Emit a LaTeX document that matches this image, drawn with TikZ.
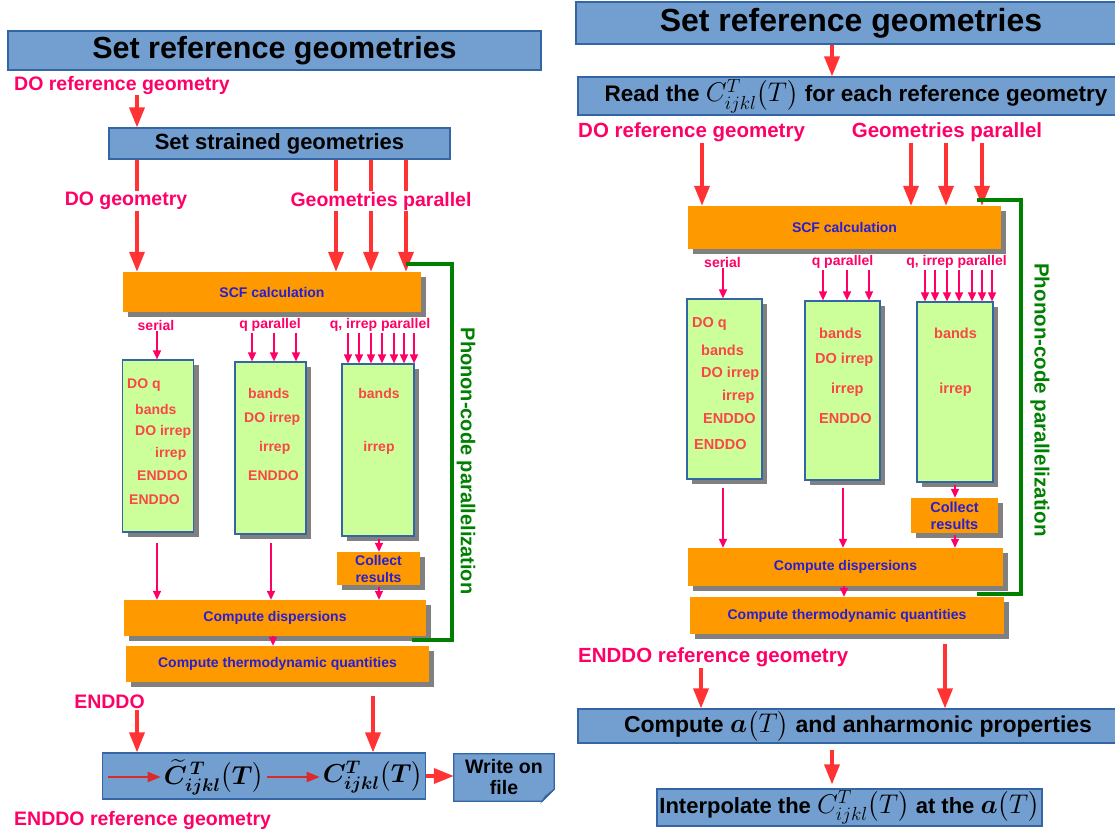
\RequirePackage{fix-cm}
\documentclass[tikz,border=0pt]{standalone}
\usepackage{amsmath,bm}
\usepackage{fontspec}
\setmainfont{Liberation Sans}
\usetikzlibrary{arrows.meta,shadows,calc,backgrounds}

\definecolor{boxblue}{RGB}{114,159,207}
\definecolor{boxline}{RGB}{52,101,164}
\definecolor{boxorange}{RGB}{255,153,0}
\definecolor{boxgreen}{RGB}{204,255,153}
\definecolor{arrred}{RGB}{255,51,51}
\definecolor{lblpink}{RGB}{255,0,102}
\definecolor{codered}{RGB}{250,70,70}
\definecolor{calcblue}{RGB}{40,30,210}
\definecolor{phongreen}{RGB}{0,128,0}
\definecolor{shadowgray}{RGB}{128,128,128}
\newcommand{\fsz}[1]{\fontsize{#1}{#1}\selectfont\bfseries}
\newcommand{\Cijkl}{{\fontsize{27}{36}\selectfont$C^{T}_{ijkl}\bigl(T\bigr)$}}
\newcommand{\aofT}{{\fontsize{27}{36}\selectfont$\bm{a}\bigl(T\bigr)$}}

\begin{document}
\begin{tikzpicture}[x=1pt, y=-1pt,
  hbox/.style={draw=boxline, fill=boxblue, line width=1.2pt, inner sep=0pt},
  orbox/.style={fill=boxorange, inner sep=0pt, text=calcblue, font=\fsz{14},
    drop shadow={shadow xshift=5pt, shadow yshift=-5pt, fill=shadowgray, opacity=1}},
  gbox/.style={draw=boxline, fill=boxgreen, line width=1.2pt, inner sep=0pt,
    drop shadow={shadow xshift=5pt, shadow yshift=-5pt, fill=shadowgray, opacity=1}},
  loopcode/.style={text=codered, font=\fsz{14}, inner sep=0pt},
  lbl/.style={text=lblpink, inner sep=1pt},
  parlbl/.style={text=lblpink, font=\fsz{14}, inner sep=1pt},
  bigarr/.style={draw=arrred, line width=3.5pt, -{Triangle[length=20pt,width=15pt]}},
  bigline/.style={draw=arrred, line width=3.5pt},
  thinarr/.style={draw=lblpink, line width=1.5pt, -{Triangle[length=9pt,width=8pt]}},
  inarr/.style={draw=arrred!85!black, line width=2pt, -{Triangle[length=13pt,width=10pt]}},
  phonon/.style={draw=phongreen, line width=4pt},
  phonlbl/.style={text=phongreen, rotate=-90, inner sep=0pt}
]
\useasboundingbox (0,0) rectangle (1115,835);

% left workflow
\node[hbox, minimum width=533, minimum height=39, font=\fsz{30.5}] (ttlL) at (274.5,50.5) {Set reference geometries};
\node[lbl, anchor=west, font=\fsz{19.5}] (dorefL) at (13,85) {DO reference geometry};
\node[hbox, minimum width=341, minimum height=31, font=\fsz{22}] (strL) at (279.5,143.5) {Set strained geometries};
\node[lbl, font=\fsz{19.5}] (dogeoL) at (126,201) {DO geometry};
\node[lbl, font=\fsz{19.5}] (geoparL) at (381,201) {Geometries parallel};
\node[orbox, minimum width=298, minimum height=40] (scfL) at (272,292) {SCF calculation};

\node[parlbl] (serL) at (156,325) {serial};
\node[parlbl] (qparL) at (270,325) {q parallel};
\node[parlbl] (qirrL) at (380,325) {q, irrep parallel};

\node[gbox, minimum width=71, minimum height=172] (gAL) at (158,446) {};
\node[gbox, minimum width=71, minimum height=172] (gBL) at (270.5,448) {};
\node[gbox, minimum width=72, minimum height=172] (gCL) at (378,450) {};

\node[loopcode, anchor=west] (a1L) at (127,385) {DO q};
\node[loopcode, anchor=west] (a2L) at (135,409) {bands};
\node[loopcode, anchor=west] (a3L) at (135,432) {DO irrep};
\node[loopcode, anchor=west] (a4L) at (155,454) {irrep};
\node[loopcode, anchor=west] (a5L) at (137,476) {ENDDO};
\node[loopcode, anchor=west] (a6L) at (129,500) {ENDDO};
\node[loopcode, anchor=west] (b1L) at (248,393) {bands};
\node[loopcode, anchor=west] (b2L) at (244,419) {DO irrep};
\node[loopcode, anchor=west] (b3L) at (259,448) {irrep};
\node[loopcode, anchor=west] (b4L) at (248,476) {ENDDO};
\node[loopcode] (c1L) at (379,393) {bands};
\node[loopcode] (c2L) at (379,448) {irrep};

\node[orbox, minimum width=83, minimum height=33, align=center, font=\fontsize{14}{17}\selectfont\bfseries] (colL) at (378.5,568.5) {Collect\\results};
\node[orbox, minimum width=302, minimum height=36] (dispL) at (275,618) {Compute dispersions};
\node[orbox, minimum width=303, minimum height=36] (thermL) at (277.5,664) {Compute thermodynamic quantities};
\node[phonlbl, font=\fsz{20}] (phonL) at (466,461) {Phonon-code parallelization};

\node[lbl, font=\fsz{19.5}] (enddoL) at (109.5,702) {ENDDO};
\node[hbox, minimum width=323, minimum height=46] (cbox) at (264,776) {};
\node[inner sep=3pt, font=\fontsize{26}{35}\selectfont] (ctil) at (214,777) {$\widetilde{\bm{C}}^{\,\bm{T}}_{\bm{ijkl}}\bigl(\bm{T}\bigr)$};
\node[inner sep=3pt, font=\fontsize{26}{35}\selectfont] (cfin) at (373,777) {$\bm{C}^{\bm{T}}_{\bm{ijkl}}\bigl(\bm{T}\bigr)$};
\node[align=center, minimum width=100, minimum height=47, inner sep=0pt, font=\fontsize{19.5}{21}\selectfont\bfseries] (wfile) at (504,777.5) {Write on\\file};
\node[lbl, anchor=west, font=\fsz{19.5}] (endrefL) at (13,820) {ENDDO reference geometry};

\begin{scope}[on background layer]
\filldraw[fill=boxblue, draw=boxline, line width=1.2pt] (wfile.north west) -- (wfile.north east)
  -- ($(wfile.south east)+(0,-12)$) -- ($(wfile.south east)+(-12,0)$) -- (wfile.south west) -- cycle;
\filldraw[fill=boxline, draw=boxline, line width=0.8pt] ($(wfile.south east)+(0,-12)$)
  -- ($(wfile.south east)+(-12,0)$) -- ($(wfile.south east)+(-9,-5)$) -- cycle;
\end{scope}

\draw[bigarr] (137,0 |- dorefL.south) -- (137,0 |- strL.north);
\draw[bigline] (137,0 |- strL.south) -- (137,0 |- dogeoL.north);
\draw[bigarr] (137,0 |- dogeoL.south) -- (137,0 |- scfL.north);
\foreach \x in {336,371,406} {
  \draw[bigline] (\x,0 |- strL.south) -- (\x,0 |- geoparL.north);
  \draw[bigarr] (\x,0 |- geoparL.south) -- (\x,0 |- scfL.north);
}
\draw[thinarr] (157,0 |- serL.south) -- (157,0 |- gAL.north);
\foreach \x in {252,274,296}
  \draw[thinarr] (\x,0 |- qparL.south) -- (\x,0 |- gBL.north);
\foreach \x in {348,359,371,382,394,404,414}
  \draw[thinarr] (\x,0 |- qirrL.south) -- (\x,0 |- gCL.north);
\draw[thinarr, shorten <=10pt] (157,0 |- gAL.south) -- (157,0 |- dispL.north);
\draw[thinarr, shorten <=8pt] (271,0 |- gBL.south) -- (271,0 |- dispL.north);
\draw[thinarr, shorten <=2pt] (379,0 |- gCL.south) -- (379,0 |- colL.north);
\draw[thinarr, shorten <=2pt] (379,0 |- colL.south) -- (379,0 |- dispL.north);
\draw[thinarr] (273,0 |- dispL.south) -- (273,0 |- thermL.north);
\draw[phonon] ($(scfL.north east)+(-15,-8)$) -| ($(dispL.south east)+(26,4)$) -- ($(dispL.south east)+(-14,4)$);

\draw[bigarr] (137,0 |- enddoL.south) -- (137,0 |- cbox.north);
\draw[bigarr, shorten <=14pt] (373,0 |- thermL.south) -- (373,0 |- cbox.north);
\draw[inarr] ($(ctil.west -| cbox.west)+(6,0)$) -- (ctil.west);
\draw[inarr] (ctil.east) -- (cfin.west);
\draw[bigarr] (cbox.east) -- (cbox.east -| wfile.west);

% right workflow
\node[hbox, minimum width=550, minimum height=42, font=\fsz{32}] (ttlR) at (851,23) {Set reference geometries};
\node[hbox, minimum width=556, minimum height=38, font=\fsz{22.5}] (readR) at (856,96) {Read the \Cijkl{} for each reference geometry};
\node[lbl, anchor=west, font=\fsz{20.5}] (dorefR) at (577,132) {DO reference geometry};
\node[lbl, font=\fsz{20.5}] (geoparR) at (947,132) {Geometries parallel};
\node[orbox, minimum width=313, minimum height=43] (scfR) at (844.5,227.5) {SCF calculation};

\node[parlbl] (serR) at (722.5,262) {serial};
\node[parlbl] (qparR) at (842.5,262) {q parallel};
\node[parlbl] (qirrR) at (956.5,262) {q, irrep parallel};

\node[gbox, minimum width=75, minimum height=180] (gAR) at (724.5,389) {};
\node[gbox, minimum width=75, minimum height=179] (gBR) at (842.5,390.5) {};
\node[gbox, minimum width=76, minimum height=180] (gCR) at (955,392) {};

\node[loopcode, anchor=west, font=\fsz{14.5}] (a1R) at (692,324) {DO q};
\node[loopcode, anchor=west, font=\fsz{14.5}] (a2R) at (701,350) {bands};
\node[loopcode, anchor=west, font=\fsz{14.5}] (a3R) at (701,374) {DO irrep};
\node[loopcode, anchor=west, font=\fsz{14.5}] (a4R) at (722,397) {irrep};
\node[loopcode, anchor=west, font=\fsz{14.5}] (a5R) at (703,419) {ENDDO};
\node[loopcode, anchor=west, font=\fsz{14.5}] (a6R) at (694,445) {ENDDO};
\node[loopcode, anchor=west, font=\fsz{14.5}] (b1R) at (819,333) {bands};
\node[loopcode, anchor=west, font=\fsz{14.5}] (b2R) at (815,360) {DO irrep};
\node[loopcode, anchor=west, font=\fsz{14.5}] (b3R) at (831,390) {irrep};
\node[loopcode, anchor=west, font=\fsz{14.5}] (b4R) at (819,419) {ENDDO};
\node[loopcode, font=\fsz{14.5}] (c1R) at (955.5,333) {bands};
\node[loopcode, font=\fsz{14.5}] (c2R) at (955.5,390) {irrep};

\node[orbox, minimum width=87, minimum height=35, align=center, font=\fontsize{14.5}{17}\selectfont\bfseries] (colR) at (954.5,515.5) {Collect\\results};
\node[orbox, minimum width=315, minimum height=38] (dispR) at (845.5,567) {Compute dispersions};
\node[orbox, minimum width=314, minimum height=37] (thermR) at (847,615.5) {Compute thermodynamic quantities};
\node[phonlbl, font=\fsz{20.5}] (phonR) at (1040,400) {Phonon-code parallelization};

\node[lbl, anchor=west, font=\fsz{20.5}] (enddoR) at (577,657) {ENDDO reference geometry};
\node[hbox, minimum width=560, minimum height=34, font=\fsz{23}] (compR) at (858,726) {Compute \aofT{} and anharmonic properties};
\node[hbox, minimum width=385, minimum height=37, font=\fsz{22}] (interpR) at (849.5,807.5) {Interpolate the \Cijkl{} at the \aofT};

\draw[bigarr] (832,0 |- ttlR.south) -- (832,0 |- readR.north);
\draw[bigarr] (702,0 |- dorefR.south) -- (702,0 |- scfR.north);
\foreach \x in {911,946,982}
  \draw[bigarr] (\x,0 |- geoparR.south) -- (\x,0 |- scfR.north);
\draw[thinarr] (723,0 |- serR.south) -- (723,0 |- gAR.north);
\foreach \x in {823,847,869}
  \draw[thinarr] (\x,0 |- qparR.south) -- (\x,0 |- gBR.north);
\foreach \x in {925,935,947,959,972,982,992}
  \draw[thinarr] (\x,0 |- qirrR.south) -- (\x,0 |- gCR.north);
\draw[thinarr, shorten <=8pt] (723,0 |- gAR.south) -- (723,0 |- dispR.north);
\draw[thinarr, shorten <=7pt] (843,0 |- gBR.south) -- (843,0 |- dispR.north);
\draw[thinarr, shorten <=2pt] (955,0 |- gCR.south) -- (955,0 |- colR.north);
\draw[thinarr, shorten <=2pt] (955,0 |- colR.south) -- (955,0 |- dispR.north);
\draw[thinarr] (844,0 |- dispR.south) -- (844,0 |- thermR.north);
\draw[phonon] ($(scfR.north east)+(-24,-6)$) -| ($(dispR.south east)+(18,8)$) -- ($(dispR.south east)+(-26,8)$);

\draw[bigarr] (701,0 |- enddoR.south) -- (701,0 |- compR.north);
\draw[bigarr, shorten <=10pt] (945,0 |- thermR.south) -- (945,0 |- compR.north);
\draw[bigarr, shorten <=6pt, shorten >=4pt] (832,0 |- compR.south) -- (832,0 |- interpR.north);

\end{tikzpicture}
\end{document}
